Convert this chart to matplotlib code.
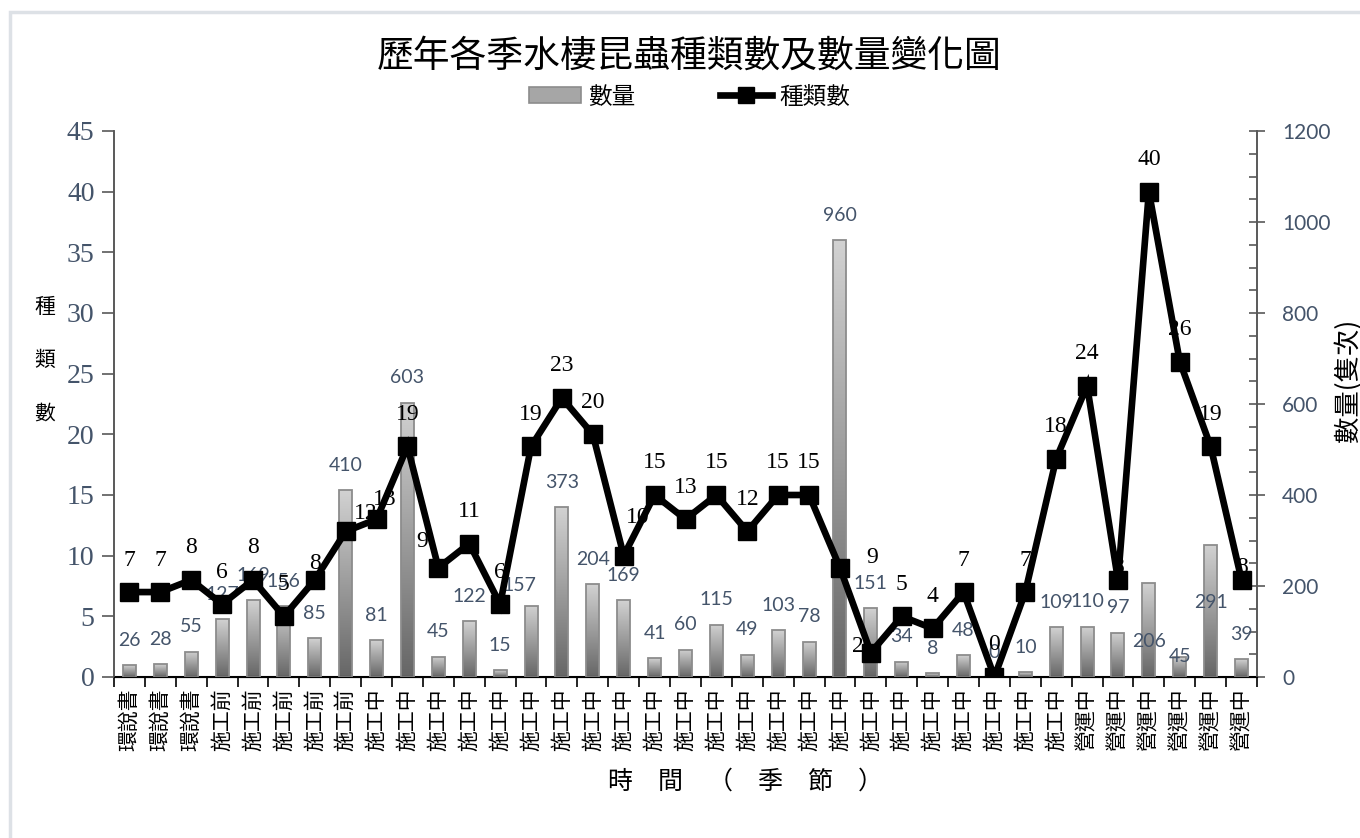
import matplotlib
matplotlib.use('Agg')
import matplotlib.pyplot as plt
import numpy as np
from matplotlib.lines import Line2D
from matplotlib.patches import Patch, Rectangle
from matplotlib.colors import LinearSegmentedColormap

# ---------------- data ----------------
categories = ['環說書', '環說書', '環說書',
              '施工前', '施工前', '施工前', '施工前', '施工前',
              '施工中', '施工中', '施工中', '施工中', '施工中', '施工中',
              '施工中', '施工中', '施工中', '施工中', '施工中', '施工中',
              '施工中', '施工中', '施工中', '施工中', '施工中', '施工中',
              '施工中', '施工中', '施工中', '施工中', '施工中',
              '營運中', '營運中', '營運中', '營運中', '營運中', '營運中']
quantity = [26, 28, 55, 127, 169, 156, 85, 410, 81, 603, 45, 122, 15, 157,
            373, 204, 169, 41, 60, 115, 49, 103, 78, 960, 151, 34, 8, 48,
            0, 10, 109, 110, 97, 206, 45, 291, 39]
species = [7, 7, 8, 6, 8, 5, 8, 12, 13, 19, 9, 11, 6, 19, 23, 20, 10, 15, 13,
           15, 12, 15, 15, 9, 2, 5, 4, 7, 0, 7, 18, 24, 8, 40, 26, 19, 8]
left_ticks = [0, 5, 10, 15, 20, 25, 30, 35, 40, 45]
right_ticks = [0, 200, 400, 600, 800, 1000, 1200]

title = '歷年各季水棲昆蟲種類數及數量變化圖'
legend_labels = ['數量', '種類數']

# ---------------- style ----------------
CJK = ['Noto Sans CJK TC', 'DejaVu Sans']
SERIF = ['Liberation Serif', 'DejaVu Serif']
SANS = ['Lato', 'DejaVu Sans']
TICKC = '#44546A'
AXC = '#595959'

# label offsets (pixels) for labels that are not directly above their mark
sp_off = {7: (20, -18), 8: (8, -20), 10: (-16, -26), 16: (14, -38),
          23: (32, -10), 24: (-13, -6), 32: (0, -12), 36: (0, -12), 6: (0, -16)}
q_off = {13: (-12, -20), 33: (0, 58), 34: (0, 0), 35: (0, 58)}

fig = plt.figure(figsize=(13.6, 8.38), dpi=100)
ax = fig.add_axes([114 / 1360, 1 - 677 / 838, (1257 - 114) / 1360, (677 - 131) / 838])
ax2 = ax.twinx()

x = np.arange(len(categories))

# bars with vertical gradient
cmap = LinearSegmentedColormap.from_list('g', ['#666666', '#D2D2D2'])
grad = np.linspace(0, 1, 256).reshape(-1, 1)
bars = ax.bar(x, quantity, width=0.42, facecolor='none', edgecolor='#8C8C8C',
              linewidth=1.3, zorder=3)
for b in bars:
    x0, y0 = b.get_x(), b.get_y()
    w, h = b.get_width(), b.get_height()
    if h <= 0:
        continue
    im = ax.imshow(grad, extent=[x0, x0 + w, y0, y0 + h], origin='lower',
                   cmap=cmap, aspect='auto', zorder=2, interpolation='bilinear')
    im.set_clip_path(b)

ax.set_xlim(-0.5, len(categories) - 0.5)
ax.set_ylim(0, 1200)
ax.yaxis.tick_right()
ax.set_yticks(right_ticks)
ax.set_yticks(np.arange(0, 1201, 50), minor=True)
ax.tick_params(axis='y', which='major', direction='inout', length=12, width=1.2,
               color=AXC, labelcolor=TICKC, labelsize=15, pad=12)
ax.tick_params(axis='y', which='minor', direction='in', length=6, width=1.2, color=AXC)
for t in ax.get_yticklabels():
    t.set_family(SANS)

ax.set_xticks(x)
ax.set_xticklabels(categories, rotation=90, family=CJK, fontsize=15)
ax.set_xticks(np.arange(-0.5, len(categories), 1), minor=True)
ax.tick_params(axis='x', which='major', length=0, pad=8)
ax.tick_params(axis='x', which='minor', direction='out', length=7, width=1.2, color='black')

for s in ['top']:
    ax.spines[s].set_visible(False)
    ax2.spines[s].set_visible(False)
ax.spines['bottom'].set_color('black')
ax.spines['bottom'].set_linewidth(1.5)
for s in ['left', 'right']:
    ax.spines[s].set_color(AXC)
    ax2.spines[s].set_color(AXC)
    ax.spines[s].set_linewidth(1.2)
    ax2.spines[s].set_linewidth(1.2)

# line
ax2.plot(x, species, color='black', lw=4.8, marker='s', ms=13, zorder=4,
         solid_joinstyle='miter')
ax2.set_ylim(0, 45)
ax2.yaxis.tick_left()
ax2.set_yticks(left_ticks)
ax2.tick_params(axis='y', direction='out', length=9, width=1.2, color=AXC,
                labelcolor=TICKC, labelsize=20, pad=5)
for t in ax2.get_yticklabels():
    t.set_family(SERIF)

# data labels
for i, q in enumerate(quantity):
    dx, dy = q_off.get(i, (0, -25))
    ax.annotate(str(q), xy=(i, q), xytext=(dx, -dy), textcoords='offset pixels',
                ha='center', va='center', color=TICKC, fontsize=14, family=SANS,
                zorder=5)
for i, s in enumerate(species):
    dx, dy = sp_off.get(i, (0, -32))
    ax2.annotate(str(s), xy=(i, s), xytext=(dx, -dy), textcoords='offset pixels',
                 ha='center', va='center', color='black', fontsize=17, family=SERIF,
                 zorder=6)

# titles and axis labels
fig.text(0.507, 1 - 56 / 838, title, ha='center', va='center', fontsize=26.5, family=CJK)
for ch, yy in zip('種類數', [307, 360, 414]):
    fig.text(45 / 1360, 1 - yy / 838, ch, ha='center', va='center', fontsize=15, family=CJK)
fig.text(1348 / 1360, 1 - 380 / 838, '數量(隻次)', rotation=90, ha='center', va='center',
         fontsize=19, family=CJK)
fig.text(745 / 1360, 1 - 782 / 838, '時　間　（　季　節　）', ha='center', va='center',
         fontsize=18, family=CJK)

handles = [Patch(facecolor='#A6A6A6', edgecolor='#8C8C8C', linewidth=1.2),
           Line2D([], [], color='black', lw=4.8, marker='s', ms=12)]
fig.legend(handles, legend_labels, loc='center', bbox_to_anchor=(0.507, 1 - 97 / 838),
           ncol=2, frameon=False, prop={'family': CJK, 'size': 17},
           columnspacing=3.6, handlelength=2.2, handletextpad=0.3)

# outer chart border
fig.patches.append(Rectangle((10 / 1360, -0.1), 1.2, 1.1 - 12 / 838, transform=fig.transFigure,
                             fill=False, edgecolor='#DDE1E6', linewidth=2.5))

fig.savefig('out.png', dpi=100)
